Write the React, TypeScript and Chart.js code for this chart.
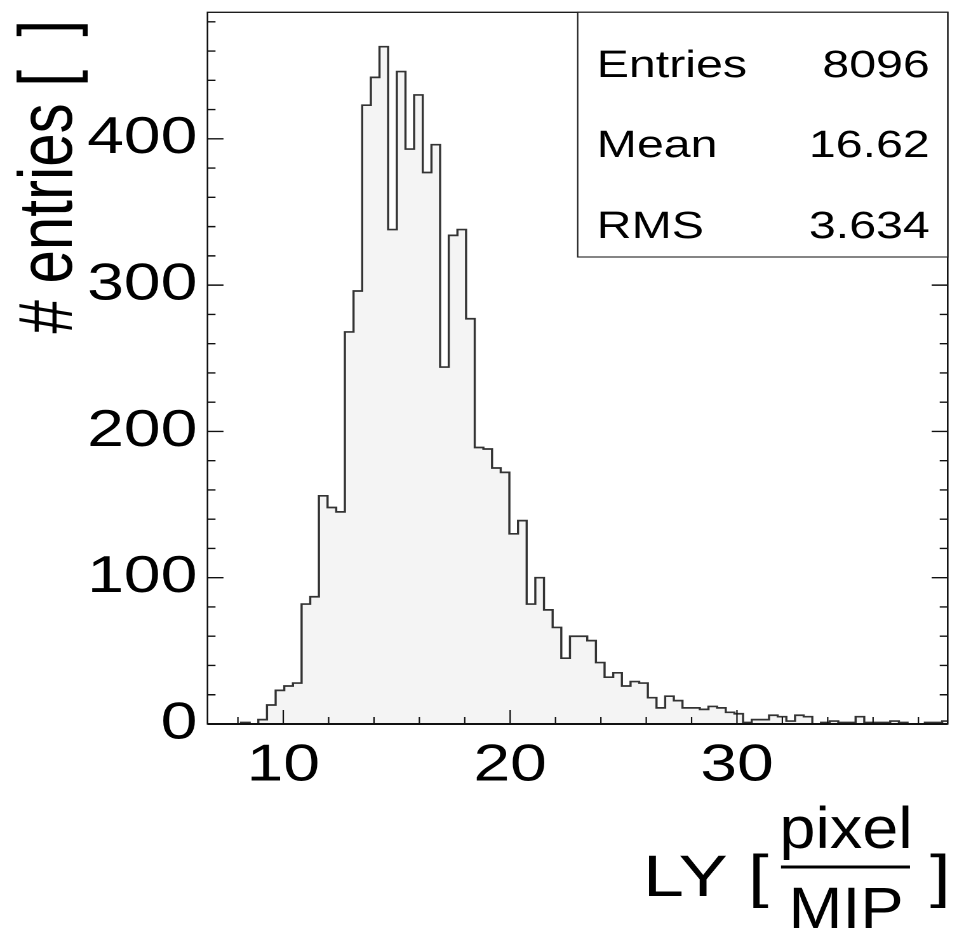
import { useEffect, useRef } from 'react';
import { Chart, registerables } from 'chart.js';

Chart.register(...registerables);

// ---------------- data ----------------
const binStart = 6.61; // lower edge of first bin
const binWidth = 0.3816;
const counts = [
  0, 0, 0, 0, 1, 0,
  3, 13, 23, 26, 28, 82, 87, 156, 148, 145, 268, 296, 423, 442, 463, 338, 446, 393, 430, 377, 396,
  244, 334, 338, 277, 189, 188, 175, 172, 130, 139, 82, 100, 78, 66, 45, 60, 60, 57, 42, 32, 35,
  26, 29, 28, 18, 11, 19, 16, 11, 11, 10, 12, 11, 8, 7, 1, 3, 3, 6, 5, 2, 6, 5,
  0, 1, 2, 1, 1, 5, 1, 1, 1, 2, 1, 0, 0, 1, 1, 2,
];
const xRange = [6.66, 39.29];
const yRange = [0, 486.5];
const xMajorStep = 10;
const xMinorStep = 2;
const yMajorStep = 100;
const yMinorStep = 20;
const statsLabels = ['Entries', 'Mean', 'RMS'];
const statsValues = ['8096', '16.62', '3.634'];
const yTitle = '# entries [  ]';
const xTitleMain = 'LY [';
const xTitleNum = 'pixel';
const xTitleDen = 'MIP';
const xTitleEnd = ']';

// ---------------- layout ----------------
const S = 1.2701; // horizontal stretch of the reference
const CW = 759;
const CH = 928;
const FONT = "'Liberation Sans', Arial, Helvetica, sans-serif";

const histPoints = counts.map((c, i) => ({ x: binStart + i * binWidth, y: c }));
histPoints.push({ x: binStart + counts.length * binWidth, y: 0 });

const decorPlugin = {
  id: 'decor',
  afterDatasetsDraw(chart: any) {
    const { ctx, chartArea: a, scales } = chart;
    const x = scales.x;
    const y = scales.y;
    ctx.save();
    ctx.strokeStyle = '#111';
    // x ticks (bottom, pointing up)
    ctx.lineWidth = 1.1;
    for (let v = Math.ceil(xRange[0] / xMinorStep) * xMinorStep; v <= xRange[1]; v += xMinorStep) {
      const px = x.getPixelForValue(v);
      const len = v % xMajorStep === 0 ? 14 : 7;
      ctx.beginPath();
      ctx.moveTo(px, a.bottom);
      ctx.lineTo(px, a.bottom - len);
      ctx.stroke();
    }
    // y ticks (left and right)
    ctx.lineWidth = 1.4;
    for (let v = yMinorStep; v <= yRange[1]; v += yMinorStep) {
      const py = y.getPixelForValue(v);
      const len = (v % yMajorStep === 0 ? 16 : 8) / S;
      ctx.beginPath();
      ctx.moveTo(a.left, py);
      ctx.lineTo(a.left + len, py);
      ctx.moveTo(a.right, py);
      ctx.lineTo(a.right - len, py);
      ctx.stroke();
    }
    // frame
    ctx.lineWidth = 1.3;
    ctx.strokeRect(a.left, a.top, a.right - a.left, a.bottom - a.top);
    ctx.lineWidth = 2;
    ctx.beginPath();
    ctx.moveTo(a.left, a.bottom);
    ctx.lineTo(a.right, a.bottom);
    ctx.stroke();

    // stats box
    const bl = a.right - (948 - 578) / S;
    const bt = a.top;
    const bb = 257;
    ctx.fillStyle = '#fff';
    ctx.fillRect(bl, bt, a.right - bl, bb - bt);
    ctx.lineWidth = 1.1;
    ctx.strokeStyle = '#222';
    ctx.strokeRect(bl, bt, a.right - bl, bb - bt);
    ctx.fillStyle = '#000';
    ctx.font = `38px ${FONT}`;
    ctx.textBaseline = 'alphabetic';
    const rows = [77, 157, 238];
    statsLabels.forEach((lab, i) => {
      ctx.textAlign = 'left';
      ctx.fillText(lab, bl + (597 - 578) / S, rows[i]);
      ctx.textAlign = 'right';
      ctx.fillText(statsValues[i], a.right - (948 - 930) / S, rows[i]);
    });

    // y title (rotated)
    ctx.save();
    ctx.translate(72 / S, 20);
    ctx.rotate(-Math.PI / 2);
    ctx.font = `60px ${FONT}`;
    ctx.textAlign = 'right';
    ctx.textBaseline = 'alphabetic';
    ctx.fillText(yTitle, 0, 0);
    ctx.restore();

    // x title with fraction
    ctx.textBaseline = 'alphabetic';
    ctx.font = `58px ${FONT}`;
    ctx.textAlign = 'left';
    ctx.fillText(xTitleMain, 643 / S, 896);
    ctx.fillText(xTitleEnd, 930 / S, 896);
    const fx = 846 / S;
    ctx.save();
    ctx.translate(fx, 0);
    ctx.scale(0.88, 1);
    ctx.font = `58px ${FONT}`;
    ctx.textAlign = 'center';
    ctx.fillText(xTitleNum, 0, 848);
    ctx.fillText(xTitleDen, 0, 928);
    ctx.restore();
    ctx.lineWidth = 3;
    ctx.strokeStyle = '#000';
    ctx.beginPath();
    ctx.moveTo(781 / S, 867);
    ctx.lineTo(910 / S, 867);
    ctx.stroke();
    ctx.restore();
  },
};

export default function App() {
  const ref = useRef<HTMLCanvasElement>(null);
  useEffect(() => {
    document.body.style.margin = '0';
    const chart = new Chart(ref.current as HTMLCanvasElement, {
      type: 'line',
      data: {
        datasets: [
          {
            data: histPoints,
            stepped: 'before',
            borderColor: '#333',
            borderWidth: 1.7,
            backgroundColor: '#f4f4f4',
            fill: 'origin',
            pointRadius: 0,
            tension: 0,
            clip: 0,
          } as any,
        ],
      },
      options: {
        animation: false,
        responsive: false,
        devicePixelRatio: 2,
        layout: { padding: { left: 0, top: 12.3, right: CW - 947.7 / S, bottom: 0 } },
        plugins: { legend: { display: false }, tooltip: { enabled: false }, title: { display: false } },
        scales: {
          x: {
            type: 'linear',
            min: xRange[0],
            max: xRange[1],
            grid: { display: false, drawTicks: false },
            border: { display: false },
            ticks: {
              stepSize: xMajorStep,
              includeBounds: false,
              autoSkip: false,
              maxRotation: 0,
              padding: 11,
              color: '#000',
              font: { family: FONT, size: 52 },
            },
            afterFit: (s: any) => {
              s.height = CH - 724;
              s.paddingLeft = 0;
              s.paddingRight = 0;
            },
          },
          y: {
            type: 'linear',
            min: yRange[0],
            max: yRange[1],
            grid: { display: false, drawTicks: false },
            border: { display: false },
            ticks: {
              stepSize: yMajorStep,
              includeBounds: false,
              autoSkip: false,
              padding: 8,
              color: '#000',
              font: { family: FONT, size: 52 },
            },
            afterFit: (s: any) => {
              s.width = 207.5 / S;
              s.paddingTop = 0;
              s.paddingBottom = 0;
            },
          },
        },
      },
      plugins: [decorPlugin],
    } as any);
    return () => chart.destroy();
  }, []);
  return (
    <div style={{ width: 964, height: 928, overflow: 'hidden', background: '#fff' }}>
      <canvas
        ref={ref}
        width={CW}
        height={CH}
        style={{
          width: `${CW}px`,
          height: `${CH}px`,
          display: 'block',
          transform: `scaleX(${S})`,
          transformOrigin: '0 0',
        }}
      />
    </div>
  );
}
